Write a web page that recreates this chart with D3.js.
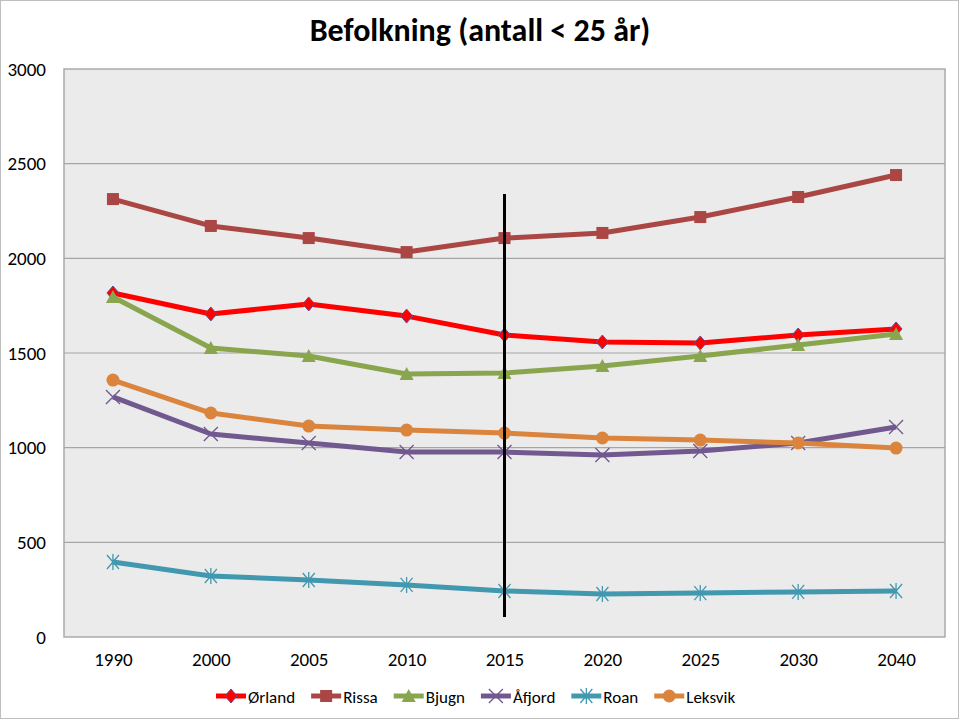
<!DOCTYPE html>
<html><head><meta charset="utf-8">
<script src="https://cdn.jsdelivr.net/npm/d3@7"></script>
<style>body{margin:0;background:#fff}</style>
</head><body>
<svg id="c" width="960" height="720"></svg>
<script>
const years = ["1990","2000","2005","2010","2015","2020","2025","2030","2040"];
const orland  = [1817,1706,1759,1695,1595,1558,1553,1595,1627];
const rissa   = [2313,2171,2107,2033,2107,2134,2218,2324,2440];
const bjugn   = [1796,1526,1484,1389,1394,1431,1484,1542,1600];
const afjord  = [1268,1072,1025,977,977,961,982,1025,1109];
const roan    = [396,322,301,275,243,227,232,238,243];
const leksvik = [1357,1183,1114,1093,1077,1051,1040,1025,998];
const yTicks = [0,500,1000,1500,2000,2500,3000];
const seriesNames = ["Ørland","Rissa","Bjugn","Åfjord","Roan","Leksvik"];
const seriesValues = [orland,rissa,bjugn,afjord,roan,leksvik];
const markerYear = "2015";
const markerRange = [105,2340];

const colors = ["#FF0000","#AA4643","#89A54E","#71588F","#4198AF","#DB843D"];
const shapes = ["diamond","square","triangle","x","star","circle"];
const font = "Calibri, Carlito, Lato, sans-serif";

const svg = d3.select("#c");
const L=64,R=945,T=69,B=637;
svg.append("rect").attr("x",0.5).attr("y",0.5).attr("width",958).attr("height",718).attr("fill","#fff").attr("stroke","#BFBFBF");
svg.append("rect").attr("x",L).attr("y",T).attr("width",R-L).attr("height",B-T).attr("fill","#EBEBEB").attr("stroke","#AAAAAA").attr("stroke-width",1.5);

const x = d3.scalePoint().domain(years).range([L,R]).padding(0.5);
const y = d3.scaleLinear().domain([0,3000]).range([B,T]);

// gridlines
svg.append("g").selectAll("line").data(yTicks.filter(d=>d>0 && d<3000)).join("line")
  .attr("x1",L).attr("x2",R).attr("y1",d=>y(d)).attr("y2",d=>y(d))
  .attr("stroke","#A6A6A6").attr("stroke-width",1.2);

// y axis
const ya = svg.append("g").attr("transform",`translate(${L},0)`).call(d3.axisLeft(y).tickValues(yTicks).tickFormat(d3.format("d")).tickSize(0).tickPadding(18));
ya.select(".domain").remove();
ya.selectAll("text").attr("font-family",font).attr("font-size",19).attr("fill","#000");

// x axis
const xa = svg.append("g").attr("transform",`translate(0,${B})`).call(d3.axisBottom(x).tickSize(0).tickPadding(16));
xa.select(".domain").remove();
xa.selectAll("text").attr("font-family",font).attr("font-size",19).attr("fill","#000");

function drawMarker(g, shape, cx, cy, color){
  if(shape==="square"){
    g.append("rect").attr("x",cx-6).attr("y",cy-6).attr("width",12).attr("height",12).attr("fill",color);
  } else if(shape==="diamond"){
    g.append("path").attr("d",`M${cx},${cy-7}L${cx+6},${cy}L${cx},${cy+7}L${cx-6},${cy}Z`).attr("fill",color).attr("stroke","#6A4C8C").attr("stroke-width",1);
  } else if(shape==="triangle"){
    g.append("path").attr("d",`M${cx},${cy-7}L${cx+7},${cy+6}L${cx-7},${cy+6}Z`).attr("fill",color);
  } else if(shape==="circle"){
    g.append("circle").attr("cx",cx).attr("cy",cy).attr("r",6.5).attr("fill",color);
  } else if(shape==="x"){
    g.append("path").attr("d",`M${cx-7},${cy-7}L${cx+7},${cy+7}M${cx-7},${cy+7}L${cx+7},${cy-7}`).attr("stroke",color).attr("stroke-width",1.3);
  } else if(shape==="star"){
    g.append("path").attr("d",`M${cx-6},${cy-7}L${cx+6},${cy+7}M${cx-6},${cy+7}L${cx+6},${cy-7}M${cx},${cy-8}L${cx},${cy+8}`).attr("stroke",color).attr("stroke-width",1.3);
  }
}

const line = d3.line().x((d,i)=>x(years[i])).y(d=>y(d));
seriesValues.forEach((vals,si)=>{
  const g = svg.append("g");
  g.append("path").attr("d",line(vals)).attr("fill","none").attr("stroke",colors[si]).attr("stroke-width",5).attr("stroke-linejoin","round");
  vals.forEach((v,i)=>drawMarker(g,shapes[si],x(years[i]),y(v),colors[si]));
});

// vertical 2015 line
svg.append("line").attr("x1",x(markerYear)).attr("x2",x(markerYear))
  .attr("y1",y(markerRange[1])).attr("y2",y(markerRange[0])).attr("stroke","#000").attr("stroke-width",3);

// title
svg.append("text").attr("x",480).attr("y",41).attr("text-anchor","middle")
  .attr("font-family",font).attr("font-weight","bold").attr("font-size",32).text("Befolkning (antall < 25 år)");

// legend
const lg = svg.append("g");
let lx = 216;
seriesNames.forEach((n,si)=>{
  const ly = 696;
  lg.append("line").attr("x1",lx).attr("x2",lx+30).attr("y1",ly).attr("y2",ly).attr("stroke",colors[si]).attr("stroke-width",5);
  drawMarker(lg,shapes[si],lx+15,ly,colors[si]);
  const t = lg.append("text").attr("x",lx+32).attr("y",ly+6.5).attr("font-family",font).attr("font-size",17).text(n);
  lx += 32 + t.node().getComputedTextLength() + 16;
});
</script>
</body></html>
